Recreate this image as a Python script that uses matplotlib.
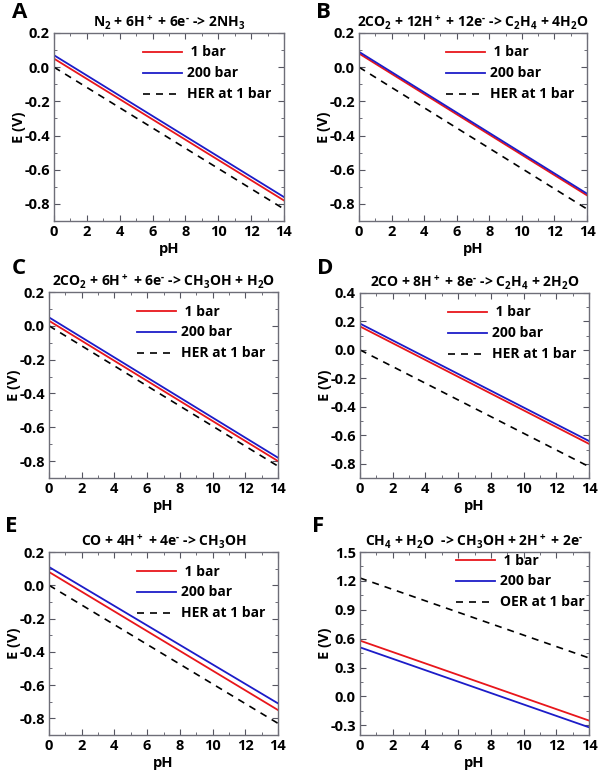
import matplotlib
matplotlib.use('Agg')
import matplotlib.pyplot as plt
from matplotlib.ticker import MultipleLocator

plt.rcParams['font.family'] = ['Open Sans', 'DejaVu Sans']
plt.rcParams['mathtext.fontset'] = 'custom'
plt.rcParams['mathtext.rm'] = 'Open Sans:bold'
plt.rcParams['mathtext.it'] = 'Open Sans:bold'
plt.rcParams['mathtext.bf'] = 'Open Sans:bold'
plt.rcParams['mathtext.default'] = 'regular'

# Données : potentiel (V) aux pH 0 et 14 #
ph = [0, 14]
lettres = ['A', 'B', 'C', 'D', 'E', 'F']
titres = [
    r'N$_2$ + 6H$^+$ + 6e$^{\text{-}}$ -> 2NH$_3$',
    r'2CO$_2$ + 12H$^+$ + 12e$^{\text{-}}$ -> C$_2$H$_4$ + 4H$_2$O',
    r'2CO$_2$ + 6H$^+$ + 6e$^{\text{-}}$ -> CH$_3$OH + H$_2$O',
    r'2CO + 8H$^+$ + 8e$^{\text{-}}$ -> C$_2$H$_4$ + 2H$_2$O',
    r'CO + 4H$^+$ + 4e$^{\text{-}}$ -> CH$_3$OH',
    r'CH$_4$ + H$_2$O  -> CH$_3$OH + 2H$^+$ + 2e$^{\text{-}}$',
]
e_1bar = [[0.05, -0.78], [0.08, -0.75], [0.03, -0.80],
          [0.165, -0.66], [0.08, -0.75], [0.58, -0.25]]
e_200bar = [[0.07, -0.76], [0.09, -0.74], [0.05, -0.78],
            [0.185, -0.64], [0.11, -0.71], [0.51, -0.32]]
e_ref = [[0.0, -0.83], [0.0, -0.83], [0.0, -0.83],
         [0.0, -0.82], [0.0, -0.83], [1.23, 0.40]]
noms_ref = ['HER at 1 bar'] * 5 + ['OER at 1 bar']
ylims = [(-0.9, 0.2)] * 3 + [(-0.9, 0.4), (-0.9, 0.2), (-0.4, 1.5)]
ypas = [0.2] * 5 + [0.3]

# Position des axes en pixels (gauche, haut, droite, bas) et des lettres #
W, H = 600, 771
boites = [(54, 33, 284, 221), (359, 33, 587, 221),
          (49, 292, 278, 478), (360, 293, 589, 478),
          (49, 552, 278, 735), (360, 552, 589, 735)]
pos_lettres = [(12, 13), (316, 13), (12, 269), (317, 269), (5, 526), (312, 527)]
ancre_legende = [(1, 1)] * 5 + [(1.035, 1.06)]

fig = plt.figure(figsize=(W / 100, H / 100), dpi=100)

for i in range(6):
    g, h, d, b = boites[i]
    ax = fig.add_axes([g / W, 1 - b / H, (d - g) / W, (b - h) / H])
    ax.plot(ph, e_1bar[i], color='#e8161b', lw=1.3, label=' 1 bar')
    ax.plot(ph, e_200bar[i], color='#1c1cc8', lw=1.3, label='200 bar')
    ax.plot(ph, e_ref[i], color='k', lw=1.2, dashes=(4.2, 3.6), label=noms_ref[i])
    ax.set_xlim(0, 14)
    ax.set_ylim(*ylims[i])
    ax.xaxis.set_major_locator(MultipleLocator(2))
    ax.xaxis.set_minor_locator(MultipleLocator(1))
    ax.yaxis.set_major_locator(MultipleLocator(ypas[i]))
    ax.yaxis.set_minor_locator(MultipleLocator(ypas[i] / 2))
    ax.yaxis.set_major_formatter(plt.FormatStrFormatter('%.1f'))
    ax.tick_params(which='both', direction='in', top=True, right=True,
                   color='#555560')
    ax.tick_params(which='major', length=4, labelsize=10.5, pad=3)
    ax.tick_params(which='minor', length=2.5)
    for lab in ax.get_xticklabels() + ax.get_yticklabels():
        lab.set_fontweight('bold')
    for s in ax.spines.values():
        s.set_color('#6e6e78')
        s.set_linewidth(1.0)
    ax.set_xlabel('pH', fontsize=10.5, fontweight='bold', labelpad=2)
    ax.set_ylabel('E (V)', fontsize=10.5, fontweight='bold', labelpad=-1)
    ax.set_title(titres[i], fontsize=10, fontweight='bold', pad=4)
    ax.legend(loc='upper right', bbox_to_anchor=ancre_legende[i], frameon=False,
              prop={'weight': 'bold', 'size': 10},
              handlelength=2.8, handletextpad=0.35, labelspacing=0.5,
              borderaxespad=0.5)
    fig.text(pos_lettres[i][0] / W, 1 - pos_lettres[i][1] / H, lettres[i],
             fontsize=16, fontweight='bold', ha='left', va='center')

fig.savefig('out.png', dpi=100)
